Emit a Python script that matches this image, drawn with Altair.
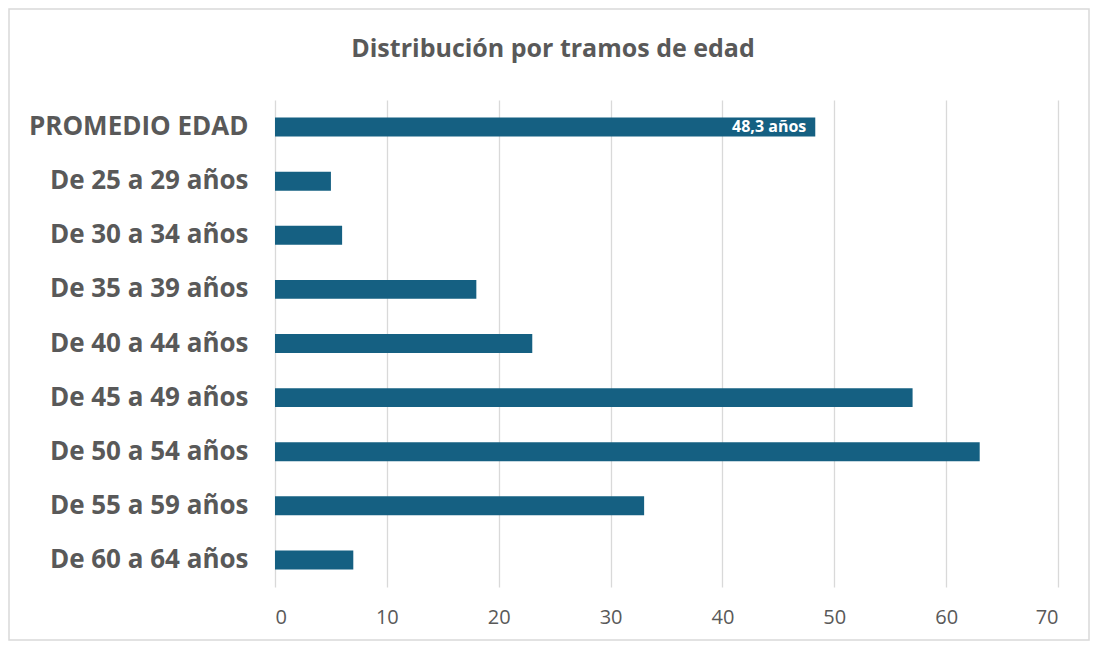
import altair as alt
import pandas as pd

categories = ["PROMEDIO EDAD", "De 25 a 29 años", "De 30 a 34 años", "De 35 a 39 años",
              "De 40 a 44 años", "De 45 a 49 años", "De 50 a 54 años", "De 55 a 59 años",
              "De 60 a 64 años"]
values = [48.3, 5, 6, 18, 23, 57, 63, 33, 7]
labels = ["48,3 años", "", "", "", "", "", "", "", ""]
title_text = ["Distribución por tramos de edad"]

df = pd.DataFrame({"cat": categories, "val": values, "lab": labels})

FONT = "Open Sans"
GREY = "#595959"

y_enc = alt.Y("cat:N", sort=categories, title=None,
              scale=alt.Scale(paddingInner=0.65, paddingOuter=0.325),
              axis=alt.Axis(domain=False, ticks=False, labelFontSize=26, labelFontWeight="bold",
                            labelColor=GREY, labelFont=FONT, labelPadding=27, labelLimit=400))
x_enc = alt.X("val:Q", title=None,
              scale=alt.Scale(domain=[0, 70], nice=False),
              axis=alt.Axis(values=[0, 10, 20, 30, 40, 50, 60, 70], domain=False, ticks=False,
                            grid=True, gridColor="#d9d9d9", gridWidth=1.3,
                            labelFontSize=20, labelColor=GREY, labelFont=FONT,
                            labelPadding=20))

bars = alt.Chart(df).mark_bar(color="#156082").encode(x=x_enc, y=y_enc)

text = alt.Chart(df).mark_text(align="right", dx=-9, color="white", fontWeight="bold",
                               fontSize=16, font=FONT).encode(
    x="val:Q", y=alt.Y("cat:N", sort=categories), text="lab:N")

border = alt.Chart(pd.DataFrame({"a": [0]})).mark_rect(fill=None, stroke="#d9d9d9", strokeWidth=1.5).encode(
    x=alt.value(-266), x2=alt.value(814), y=alt.value(-91), y2=alt.value(540))

title = alt.Chart(pd.DataFrame({"t": title_text})).mark_text(
    fontSize=25, font=FONT, fontWeight="bold", color=GREY, align="center", baseline="middle").encode(
    x=alt.value(278), y=alt.value(-51), text="t:N")

chart = alt.layer(border, bars, text, title).properties(
    width=783, height=487,
    padding={"left": 267, "top": 92, "right": 32, "bottom": 54},
    autosize=alt.AutoSizeParams(type="none"),
).configure_view(stroke=None)

chart.save("out.html", embed_options={"renderer": "svg", "actions": False})
